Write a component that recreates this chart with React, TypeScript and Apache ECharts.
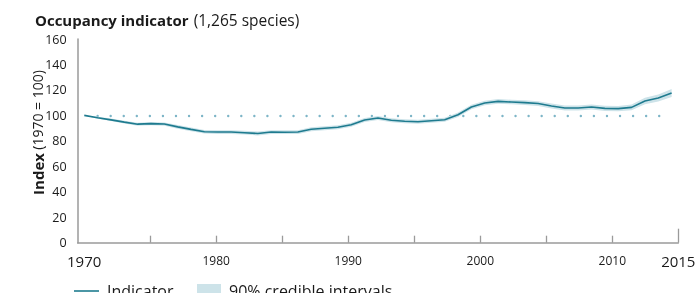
import React, { useEffect, useRef } from "react";
import * as echarts from "echarts";

const years = [
  "1970", "1971", "1972", "1973", "1974", "1975", "1976", "1977", "1978", "1979",
  "1980", "1981", "1982", "1983", "1984", "1985", "1986", "1987", "1988", "1989",
  "1990", "1991", "1992", "1993", "1994", "1995", "1996", "1997", "1998", "1999",
  "2000", "2001", "2002", "2003", "2004", "2005", "2006", "2007", "2008", "2009",
  "2010", "2011", "2012", "2013", "2014",
];

const indicator = [
  100, 98.2, 96.5, 94.7, 93.1, 93.5, 93.2, 91.0, 89.0, 87.2,
  86.9, 86.9, 86.4, 85.8, 86.9, 86.8, 86.9, 89.1, 89.9, 90.7,
  92.7, 96.4, 98.0, 96.2, 95.4, 95.0, 95.8, 96.6, 100.5, 106.6,
  109.7, 111.0, 110.5, 110.0, 109.3, 107.4, 105.8, 105.8, 106.6, 105.5,
  105.3, 106.3, 111.3, 113.7, 117.6,
];

const lower = [
  100, 97.4, 95.5, 93.6, 91.9, 92.2, 91.9, 89.6, 87.6, 85.8,
  85.4, 85.4, 84.9, 84.3, 85.4, 85.3, 85.4, 87.6, 88.4, 89.2,
  91.1, 94.8, 96.4, 94.6, 93.8, 93.4, 94.2, 95.0, 98.8, 104.9,
  107.9, 109.2, 108.7, 108.2, 107.4, 105.5, 103.9, 103.8, 104.6, 103.5,
  103.2, 104.1, 108.8, 110.9, 114.4,
];

const upper = [
  100, 99.0, 97.5, 95.8, 94.3, 94.8, 94.5, 92.4, 90.4, 88.6,
  88.4, 88.4, 87.9, 87.3, 88.4, 88.3, 88.4, 90.6, 91.4, 92.2,
  94.3, 98.0, 99.6, 97.8, 97.0, 96.6, 97.4, 98.2, 102.2, 108.3,
  111.5, 112.8, 112.3, 111.8, 111.2, 109.3, 107.7, 107.8, 108.6, 107.5,
  107.4, 108.5, 113.8, 116.5, 120.8,
];

const xLabelYears = [1970, 1980, 1990, 2000, 2010, 2015];
const xTickYears = [1975, 1980, 1985, 1990, 1995, 2000, 2005, 2010];
const endTickYears = [2015];
const baselineFrom = "1971";
const baselineTo = "2014";
const baselineValue = 100;

const titleBold = "Occupancy indicator";
const titleRest = "(1,265 species)";
const yNameBold = "Index";
const yNameRest = "(1970 = 100)";
const legendLine = "Indicator";
const legendBand = "90% credible intervals";

const FONT = "'Open Sans', 'Noto Sans', sans-serif";
const LINE = "#1e7b8f";
const BAND = "#cde3e9";
const DOTS = "#7db5c7";
const AXIS = "#9a9a9a";
const TEXT = "#1a1a1a";

export default function App() {
  const ref = useRef<HTMLDivElement>(null);

  useEffect(() => {
    const chart = echarts.init(ref.current!, null, { renderer: "svg" });
    const bandHeights = upper.map((u, i) => +(u - lower[i]).toFixed(2));

    chart.setOption({
      animation: false,
      title: {
        text: `{b|${titleBold}} {n|${titleRest}}`,
        left: 30,
        top: 6,
        textStyle: {
          fontWeight: "normal",
          rich: {
            b: { fontFamily: FONT, fontSize: 15, fontWeight: "bold", color: TEXT },
            n: { fontFamily: FONT, fontSize: 15.5, fontWeight: "normal", color: TEXT },
          },
        },
      },
      grid: {
        left: 77.6,
        right: 16.7,
        top: 39,
        bottom: 50.3,
        containLabel: false,
        outerBoundsMode: "none",
      },
      legend: [
        {
          data: [{ name: legendLine, icon: "path://M0,0L25,0L25,1.6L0,1.6Z" }],
          left: 74,
          top: 283,
          padding: 0,
          itemWidth: 25,
          itemHeight: 14,
          selectedMode: false,
          textStyle: { fontFamily: FONT, fontSize: 16, color: TEXT, padding: [0, 0, 0, 3] },
        },
        {
          data: [{ name: legendBand, icon: "rect" }],
          left: 197,
          top: 283,
          padding: 0,
          itemWidth: 24,
          itemHeight: 14,
          selectedMode: false,
          textStyle: { fontFamily: FONT, fontSize: 16, color: TEXT, padding: [0, 0, 0, 3] },
        },
      ],
      xAxis: [
        {
          type: "category",
          data: years,
          boundaryGap: true,
          show: false,
        },
        {
          type: "value",
          min: 1969.5,
          max: 2015,
          position: "bottom",
          axisLine: { show: true, lineStyle: { color: AXIS, width: 1.5 } },
          axisTick: {
            show: true,
            inside: true,
            length: 7,
            customValues: xTickYears,
            lineStyle: { color: AXIS, width: 1.3 },
          },
          axisLabel: {
            show: true,
            customValues: xLabelYears,
            margin: 9,
            color: TEXT,
            formatter: (v: number) =>
              v === 1970 || v === 2015 ? `{big|${v}}` : `{small|${v}}`,
            rich: {
              big: { fontFamily: FONT, fontSize: 15, color: TEXT, lineHeight: 18 },
              small: { fontFamily: FONT, fontSize: 12, color: TEXT, lineHeight: 18 },
            },
          },
          splitLine: { show: false },
        },
        {
          type: "value",
          min: 1969.5,
          max: 2015,
          position: "bottom",
          axisLine: { show: false },
          axisTick: {
            show: true,
            inside: true,
            length: 14,
            customValues: endTickYears,
            lineStyle: { color: AXIS, width: 1.3 },
          },
          axisLabel: { show: false },
          splitLine: { show: false },
        },
      ],
      yAxis: {
        type: "value",
        min: 0,
        max: 160,
        interval: 20,
        axisLine: { show: true, lineStyle: { color: AXIS, width: 1.5 } },
        axisTick: { show: false },
        splitLine: { show: false },
        axisLabel: { margin: 11, fontSize: 12.5, color: TEXT, fontFamily: FONT },
      },
      graphic: [
        {
          type: "text",
          x: 37.5,
          y: 132.5,
          rotation: Math.PI / 2,
          style: {
            text: `{b|${yNameBold}} {n|${yNameRest}}`,
            align: "center",
            verticalAlign: "middle",
            fill: TEXT,
            rich: {
              b: { fontFamily: FONT, fontSize: 15, fontWeight: "bold", fill: TEXT },
              n: { fontFamily: FONT, fontSize: 14, fill: TEXT },
            },
          },
        },
      ],
      series: [
        {
          name: "lowerBound",
          type: "line",
          xAxisIndex: 0,
          data: lower,
          stack: "ci",
          symbol: "none",
          silent: true,
          lineStyle: { opacity: 0 },
          z: 2,
        },
        {
          name: legendBand,
          type: "line",
          xAxisIndex: 0,
          data: bandHeights,
          stack: "ci",
          symbol: "none",
          silent: true,
          lineStyle: { opacity: 0 },
          itemStyle: { color: BAND },
          areaStyle: { color: BAND, opacity: 1 },
          z: 2,
        },
        {
          name: legendLine,
          type: "line",
          xAxisIndex: 0,
          data: indicator,
          symbol: "none",
          silent: true,
          lineStyle: { color: LINE, width: 1.6 },
          itemStyle: { color: LINE },
          z: 4,
          markLine: {
            silent: true,
            symbol: "none",
            z: 1,
            label: { show: false },
            lineStyle: { color: DOTS, width: 2.4, type: [0.01, 13.05], cap: "round" },
            data: [[{ coord: [baselineFrom, baselineValue] }, { coord: [baselineTo, baselineValue] }]],
          },
        },
      ],
    });

    return () => chart.dispose();
  }, []);

  return (
    <div
      ref={ref}
      style={{ position: "fixed", left: 0, top: 0, width: 695, height: 293 }}
    />
  );
}
